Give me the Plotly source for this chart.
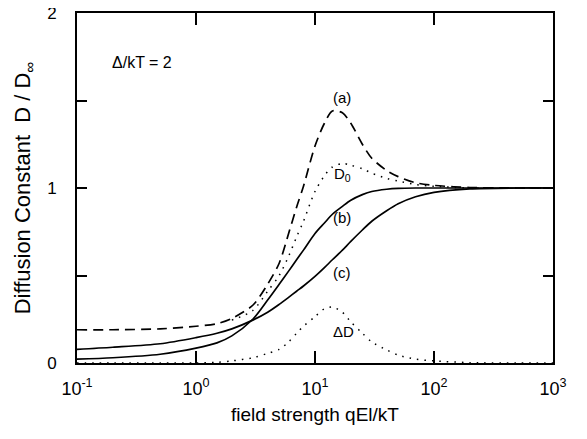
import math
import plotly.graph_objects as go

# field strength qEl/kT
field = [0.1, 0.2, 0.5, 1, 1.5, 2, 3, 4, 5, 6, 7, 8, 10, 12, 14, 17, 20, 25, 30, 40, 50, 70, 100, 200, 500, 1000]

curve_a = [0.19, 0.19, 0.195, 0.21, 0.225, 0.255, 0.33, 0.45, 0.57, 0.74, 0.89, 1.01, 1.24, 1.37, 1.44, 1.43, 1.37,
           1.25, 1.17, 1.10, 1.065, 1.03, 1.015, 1.003, 1.0, 1.0]
# D0 coincides with (a) at low field; drawn from where it separates
curve_d0 = [None, None, None, None, None, 0.245, 0.30, 0.41, 0.50, 0.61, 0.72, 0.81, 0.98, 1.07, 1.12, 1.14, 1.13,
            1.11, 1.085, 1.055, 1.04, 1.02, 1.01, 1.0, 1.0, 1.0]
curve_dd = [0.0, 0.0, 0.0, 0.0, 0.004, 0.012, 0.03, 0.055, 0.078, 0.12, 0.17, 0.21, 0.265, 0.31, 0.32, 0.29, 0.235,
            0.17, 0.12, 0.075, 0.045, 0.022, 0.012, 0.002, 0.0, 0.0]
curve_b = [0.022, 0.03, 0.05, 0.085, 0.115, 0.155, 0.25, 0.36, 0.45, 0.525, 0.59, 0.645, 0.74, 0.80, 0.85, 0.895,
           0.93, 0.962, 0.98, 0.993, 0.998, 1.0, 1.0, 1.0, 1.0, 1.0]
curve_c = [0.078, 0.09, 0.11, 0.145, 0.17, 0.195, 0.245, 0.29, 0.335, 0.375, 0.41, 0.44, 0.495, 0.545, 0.59, 0.645,
           0.695, 0.76, 0.81, 0.87, 0.91, 0.95, 0.975, 0.995, 1.0, 1.0]

x_tickvals = [0.1, 1, 10, 100, 1000]
x_ticktext = ["10<sup>-1</sup>", "10<sup>0</sup>", "10<sup>1</sup>", "10<sup>2</sup>", "10<sup>3</sup>"]
y_tickvals = [0, 0.5, 1, 1.5, 2]
y_ticktext = ["0", "", "1", "", "2"]

FONT = "Liberation Sans, Arial, Helvetica, sans-serif"

fig = go.Figure()
solid = dict(color="black", width=1.7, shape="spline", smoothing=0.8)
dotted = dict(color="black", width=1.5, dash="1.5px,6px", shape="spline", smoothing=0.8)
fig.add_trace(go.Scatter(x=field, y=curve_a, mode="lines",
                         line=dict(color="black", width=1.7, dash="10px,6px", shape="spline", smoothing=0.8)))
fig.add_trace(go.Scatter(x=field, y=curve_d0, mode="lines", line=dotted, connectgaps=False))
fig.add_trace(go.Scatter(x=field, y=curve_dd, mode="lines", line=dotted))
fig.add_trace(go.Scatter(x=field, y=curve_b, mode="lines", line=solid))
fig.add_trace(go.Scatter(x=field, y=curve_c, mode="lines", line=solid))

def ann(xv, yv, text, size=15):
    fig.add_annotation(x=math.log10(xv), y=yv, text=text, showarrow=False,
                       font=dict(family=FONT, size=size, color="black"))

ann(0.35, 1.72, "Δ/kT = 2", 16)
ann(16.9, 1.52, "(a)")
ann(16.9, 1.08, "D<sub>0</sub>")
ann(16.9, 0.83, "(b)")
ann(16.9, 0.52, "(c)")
ann(17.5, 0.18, "ΔD")

fig.update_layout(
    width=579, height=431,
    margin=dict(l=69, r=34, t=5, b=76),
    paper_bgcolor="white", plot_bgcolor="white",
    showlegend=False,
    font=dict(family=FONT, color="black"),
    xaxis=dict(type="log", range=[-1, 3], tickvals=x_tickvals, ticktext=x_ticktext,
               ticks="inside", ticklen=12, tickwidth=2, tickcolor="black",
               showline=True, linewidth=2, linecolor="black", mirror="ticks",
               showgrid=False, zeroline=False, automargin=False, ticklabelstandoff=8,
               ticklabeloverflow="allow",
               tickfont=dict(size=18, family=FONT),
               title=dict(text="field strength qEl/kT", font=dict(size=19, family=FONT), standoff=10)),
    yaxis=dict(range=[0, 2], tickvals=y_tickvals, ticktext=y_ticktext,
               ticks="inside", ticklen=10, tickwidth=2, tickcolor="black",
               showline=True, linewidth=2, linecolor="black", mirror="ticks",
               showgrid=False, zeroline=False, automargin=False, ticklabelstandoff=15,
               ticklabeloverflow="allow",
               tickfont=dict(size=17, family=FONT),
               title=dict(text="Diffusion Constant\u00a0\u00a0D / D<sub>∞</sub>",
                          font=dict(size=22, family=FONT), standoff=10)),
)

fig.write_html("out.html")
